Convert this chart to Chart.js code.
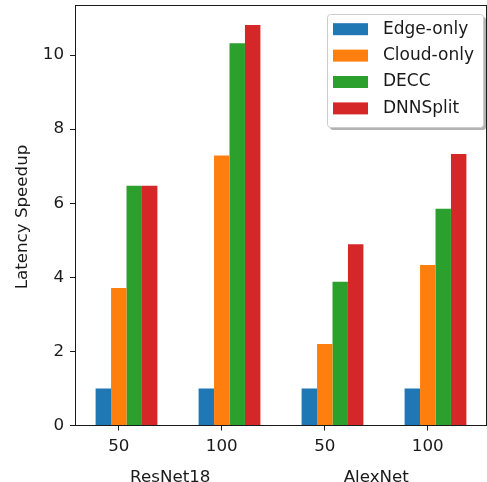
<!DOCTYPE html>
<html>
<head>
<meta charset="utf-8">
<script src="https://cdn.jsdelivr.net/npm/chart.js@4.4.1/dist/chart.umd.min.js"></script>
<style>
  html, body { margin: 0; padding: 0; background: #fff; }
  #wrap { width: 487px; height: 482px; }
</style>
</head>
<body>
<div id="wrap"><canvas id="mainChart" width="487" height="482"></canvas></div>
<script>
// --- data ---
const groupNames = ['ResNet18', 'AlexNet'];
const batchLabels = ['50', '100', '50', '100'];
const categories = ['ResNet18-50', 'ResNet18-100', 'AlexNet-50', 'AlexNet-100'];
const seriesNames = ['Edge-only', 'Cloud-only', 'DECC', 'DNNSplit'];
const seriesColors = ['#1f77b4', '#ff7f0e', '#2ca02c', '#d62728'];
const edgeOnly = [1.0, 1.0, 1.0, 1.0];
const cloudOnly = [3.71, 7.29, 2.20, 4.33];
const decc = [6.47, 10.32, 3.88, 5.85];
const dnnSplit = [6.47, 10.81, 4.89, 7.33];
const yTicks = [0, 2, 4, 6, 8, 10];
const yMax = 11.35;

const FONT = "'DejaVu Sans', 'Liberation Sans', sans-serif";
const FS = 16.7;
const INK = '#1a1a1a';
const CAT_PCT = 0.6;

// matplotlib style: ticks sit under the 2nd bar of each group
const barW = CAT_PCT / seriesNames.length;
const tickPos = categories.map((_, i) => i - barW / 2);
const groupPos = [0, 2].map(i => (tickPos[i] + tickPos[i + 1]) / 2);

const allSeries = [edgeOnly, cloudOnly, decc, dnnSplit];
const datasets = allSeries.map((vals, k) => ({
    label: seriesNames[k],
    data: vals,
    backgroundColor: seriesColors[k],
    borderWidth: 0,
    categoryPercentage: CAT_PCT,
    barPercentage: 1.0
}));

// top + right spines, y label, and the boxed legend
const framePlugin = {
    id: 'frame',
    afterDraw(chart) {
        const ctx = chart.ctx;
        const a = chart.chartArea;
        ctx.save();
        ctx.strokeStyle = INK;
        ctx.lineWidth = 1;
        ctx.beginPath();
        ctx.moveTo(a.left, a.top + 0.5);
        ctx.lineTo(a.right, a.top + 0.5);
        ctx.moveTo(a.right - 0.5, a.top);
        ctx.lineTo(a.right - 0.5, a.bottom);
        ctx.stroke();

        // y axis label
        ctx.translate(23, 217);
        ctx.rotate(-Math.PI / 2);
        ctx.fillStyle = INK;
        ctx.font = FS + 'px ' + FONT;
        ctx.textAlign = 'center';
        ctx.textBaseline = 'middle';
        ctx.fillText('Latency Speedup', 0, 0);
        ctx.restore();

        // legend
        const bx = 327, by = 14, bw = 156, bh = 113, r = 3;
        ctx.save();
        ctx.fillStyle = '#b3b3b3';
        ctx.beginPath();
        ctx.roundRect(bx + 3, by + 3, bw, bh, r);
        ctx.fill();
        ctx.fillStyle = '#ffffff';
        ctx.strokeStyle = '#cccccc';
        ctx.lineWidth = 1;
        ctx.beginPath();
        ctx.roundRect(bx + 0.5, by + 0.5, bw, bh, r);
        ctx.fill();
        ctx.stroke();

        ctx.font = '17px ' + FONT;
        ctx.textAlign = 'left';
        ctx.textBaseline = 'middle';
        chart.data.datasets.forEach((ds, i) => {
            const cy = 29.2 + i * 26.4;
            ctx.fillStyle = ds.backgroundColor;
            ctx.fillRect(333, cy - 6, 35, 12);
            ctx.fillStyle = INK;
            ctx.fillText(ds.label, 383, cy);
        });
        ctx.restore();
    }
};

const ctx = document.getElementById('mainChart').getContext('2d');
new Chart(ctx, {
    type: 'bar',
    data: { labels: categories, datasets: datasets },
    plugins: [framePlugin],
    options: {
        responsive: false,
        animation: false,
        devicePixelRatio: 1,
        layout: { padding: { top: 5, right: 0, left: 0, bottom: 0 } },
        plugins: {
            legend: { display: false },
            tooltip: { enabled: false }
        },
        scales: {
            x: { display: false },
            xt: {
                type: 'linear',
                position: 'bottom',
                weight: 1,
                offset: false,
                min: -0.5,
                max: categories.length - 0.5,
                afterBuildTicks: s => { s.ticks = tickPos.map(v => ({ value: v })); },
                afterFit: s => { s.height = 30; s.paddingLeft = 0; s.paddingRight = 0; },
                grid: { offset: false, drawOnChartArea: false, tickLength: 5, tickColor: INK, tickWidth: 1 },
                border: { color: INK, width: 1 },
                ticks: {
                    autoSkip: false,
                    maxRotation: 0,
                    padding: 6,
                    color: INK,
                    font: { family: FONT, size: FS },
                    callback: (v, i) => batchLabels[i]
                }
            },
            xg: {
                type: 'linear',
                position: 'bottom',
                weight: 2,
                offset: false,
                min: -0.5,
                max: categories.length - 0.5,
                afterBuildTicks: s => { s.ticks = groupPos.map(v => ({ value: v })); },
                afterFit: s => { s.height = 26.5; s.paddingLeft = 0; s.paddingRight = 0; },
                grid: { display: false, offset: false },
                border: { display: false },
                ticks: {
                    autoSkip: false,
                    maxRotation: 0,
                    padding: 4,
                    color: INK,
                    font: { family: FONT, size: FS },
                    callback: (v, i) => groupNames[i]
                }
            },
            y: {
                min: 0,
                max: yMax,
                afterBuildTicks: s => { s.ticks = yTicks.map(v => ({ value: v })); },
                afterFit: s => { s.width = 75; s.paddingTop = 0; s.paddingBottom = 0; },
                grid: { drawOnChartArea: false, tickLength: 5, tickColor: INK, tickWidth: 1 },
                border: { color: INK, width: 1 },
                ticks: {
                    padding: 6,
                    color: INK,
                    font: { family: FONT, size: FS },
                    callback: v => String(v)
                }
            }
        }
    }
});
</script>
</body>
</html>
